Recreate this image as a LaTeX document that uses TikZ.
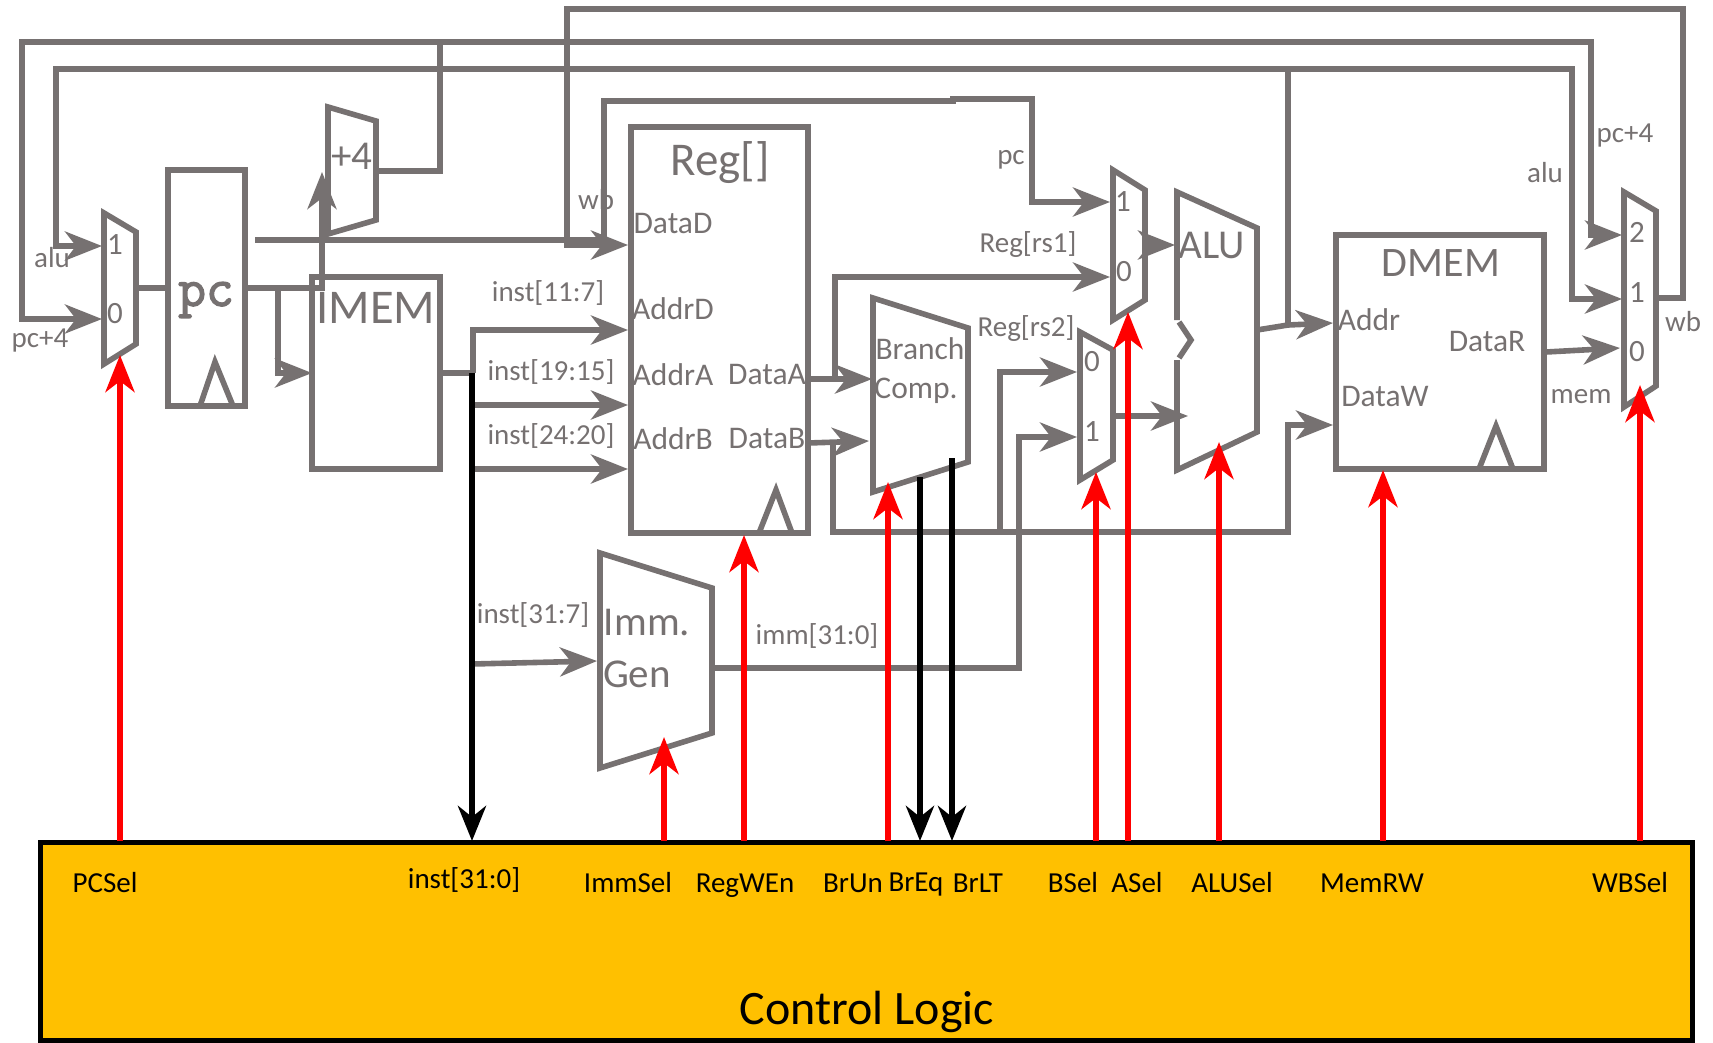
\documentclass[tikz,border=0pt]{standalone}
\usepackage{fontspec}
\setmainfont{Carlito}
\setmonofont{Latin Modern Mono}[FakeBold=2.5]
\usetikzlibrary{arrows.meta}
\definecolor{gry}{RGB}{118,113,113}
\definecolor{ctrlgold}{RGB}{255,192,0}
\newcommand{\fs}[1]{\fontsize{#1}{#1}\selectfont}
\tikzset{
  block/.style={draw=gry,line width=5.6pt,outer sep=0pt,inner sep=0pt},
  wire/.style={draw=gry,line width=5.6pt},
  arr/.style={wire,-{Stealth[length=37pt,width=29pt,inset=11pt]}},
  ctrlred/.style={draw=red,line width=6pt,-{Stealth[length=37pt,width=29pt,inset=11pt]}},
  ctrlblk/.style={draw=black,line width=6.2pt,-{Stealth[length=35pt,width=28pt,inset=11pt]}},
  lbl/.style={text=gry,font=\fs{29},inner sep=0pt},
  big/.style={text=gry,font=\fs{42},inner sep=0pt},
  sig/.style={text=black,font=\fs{29},inner sep=0pt}
}
\begin{document}
\begin{tikzpicture}[x=1pt,y=-1pt]
  \useasboundingbox (0,0) rectangle (1713,1042);
  % control box
  \node[draw=black,fill=ctrlgold,line width=5pt,outer sep=0pt,minimum width=1652pt,minimum height=198pt] (ctrl) at (866,941) {};
  % blocks
  \node[block,minimum width=77pt,minimum height=236pt] (pcreg) at (206.5,288) {};
  \node[block,minimum width=128pt,minimum height=192pt] (imem) at (376,373) {};
  \node[block,minimum width=177pt,minimum height=406pt] (regfile) at (719.5,330) {};
  \node[block,minimum width=208pt,minimum height=234pt] (dmem) at (1440,352) {};
  \foreach \nm/\l/\r/\tl/\tr/\br/\bl in {
    pcmux/104/136/213/232/344/364,
    addfour/328/376/107/121/220/234,
    immgen/600/712/553/588/733/768,
    brcomp/873/968/298/328/462/492,
    amux/1113/1145/170/190/300/320,
    bmux/1080/1113/332/350/460/480,
    wbmux/1624/1656/192/211/386/407}{
    \draw[block] (\l,\tl) -- (\r,\tr) -- (\r,\br) -- (\l,\bl) -- cycle;
  }
  \draw[block] (1177,320) -- (1177,192) -- (1257,228) -- (1257,432) -- (1177,470) -- (1177,360);
  \draw[block] (1179,322) -- (1191,340) -- (1179,358);
  % clock marks
  \draw[block] (200,406) -- (215,362) -- (233,406);
  \draw[block] (759,533) -- (776,490) -- (792,533);
  \draw[block] (1479,469) -- (1496,426) -- (1513,469);
  % ports and bends
  \foreach \nm/\x/\y in {
    pcmuxone/102/246, pcmuxzero/102/319, pcmuxout/136/288,
    alujoin/1288/69, alutopl/56/69, alutopr/1572/69, wbmuxone/1622/299,
    aluout/1257/330, addrjoin/1288/325, dmemaddr/1333/323,
    addfourout/376/171, pcfourjoin/440/42, pcfourl/22/42, pcfourr/1591/42, wbmuxtwo/1622/235,
    wbmuxout/1656/298, wbtopr/1683/9, wbtopl/567/9, regdatad/628/245,
    pcout/255/240, pcwirea/604/240, pcwireb/953/101, pcwirejog/953/99, pcwirec/1032/99, amuxone/1110/202,
    addcorner/322/288, addfourin/322/172, imemjoin/278/288,
    instjoin/473/373, regaddrd/628/330, rsonetap/473/405, regaddra/628/405, rstwotap/473/469, regaddrb/628/469,
    instbus/472/373, ctrlinst/472/841, immtap/472/664, immgenin/597/661,
    regdataa/808/379, brcompa/872/379, regdatab/808/443, brcompb/869/441,
    dataajoin/835/379, amuxzero/1110/277, databjoin/833/443, dmemjoin/1288/532, dmemdataw/1333/425,
    bmuxtap/1000/532, bmuxzero/1077/372, immgenout/712/668, immcorner/1019/668, bmuxonein/1077/437,
    amuxout/1145/245, aluina/1175/245, bmuxout/1113/416, aluinb/1188/416,
    dmemout/1546/352, wbmuxzero/1620/348,
    breqa/920/477, breqb/920/841, brlta/952/458, brltb/952/841}{
    \coordinate (\nm) at (\x,\y);
  }
  % datapath wires
  \draw[wire] (pcmuxout) -- (pcreg.west);
  \draw[arr] (pcreg.east) -- (addcorner) -- (addfourin);
  \draw[arr] (imemjoin) |- (imem.west);
  \draw[wire] (addfourout) -| (pcfourjoin);
  \draw[arr] (pcfourjoin) -- (pcfourl) |- (pcmuxzero);
  \draw[arr] (pcfourjoin) -- (pcfourr) |- (wbmuxtwo);
  \draw[arr] (alujoin) -- (alutopl) |- (pcmuxone);
  \draw[arr] (alujoin) -- (alutopr) |- (wbmuxone);
  \draw[wire] (alujoin) -- (addrjoin);
  \draw[arr] (aluout) -- (addrjoin) -- (dmemaddr);
  \draw[arr] (wbmuxout) -| (wbtopr) -- (wbtopl) |- (regdatad);
  \draw[arr] (pcout) -- (pcwirea) |- (pcwireb) -- (pcwirejog) -- (pcwirec) |- (amuxone);
  \draw[wire] (imem.east) -- (instjoin);
  \draw[arr] (instjoin) |- (regaddrd);
  \draw[arr] (rsonetap) -- (regaddra);
  \draw[arr] (rstwotap) -- (regaddrb);
  \draw[arr] (immtap) -- (immgenin);
  \draw[arr] (regdataa) -- (brcompa);
  \draw[arr] (regdatab) -- (brcompb);
  \draw[arr] (dataajoin) |- (amuxzero);
  \draw[arr] (databjoin) |- (dmemjoin) |- (dmemdataw);
  \draw[arr] (bmuxtap) |- (bmuxzero);
  \draw[arr] (immgenout) -- (immcorner) |- (bmuxonein);
  \draw[arr] (amuxout) -- (aluina);
  \draw[arr] (bmuxout) -- (aluinb);
  \draw[arr] (dmemout) -- (wbmuxzero);
  % control signals
  \draw[ctrlblk] (instbus) -- (ctrlinst);
  \draw[ctrlblk] (breqa) -- (breqb);
  \draw[ctrlblk] (brlta) -- (brltb);
  \foreach \nm/\x/\y in {
    pcsel/120/355, immsel/664/737, regwen/744/535, brun/888/482, bsel/1096/472,
    asel/1128/312, alusel/1219/442, memrw/1383/470, wbsel/1640/385}{
    \coordinate (\nm a) at (\x,841);
    \coordinate (\nm b) at (\x,\y);
    \draw[ctrlred] (\nm a) -- (\nm b);
  }
  % gray labels
  \foreach \nm/\x/\y/\txt in {
    lalua/52/258/alu, lpcfoura/40/341/pc+4, lwba/596/200/wb,
    lineleven/548/293/{inst[11:7]}, linenineteen/551/372/{inst[19:15]},
    lintwentyfour/551/436/{inst[24:20]}, linthirtyone/533/615/{inst[31:7]},
    limm/817/636/{imm[31:0]}, lpc/1011/160/pc, lrsone/1028/245/{Reg[rs1]}, lrstwo/1026/329/{Reg[rs2]},
    lmem/1581/397/mem, lwbb/1683/322/wb, lpcfourb/1625/136/pc+4, lalub/1545/173/alu}{
    \node[lbl] (\nm) at (\x,\y) {\txt};
  }
  % block ports
  \foreach \nm/\x/\y/\txt in {
    ldatad/673/224/DataD, laddrd/673/309/AddrD, laddra/673/375/AddrA, laddrb/673/439/AddrB,
    ldataa/767/375/DataA, ldatab/767/439/DataB, laddr/1369/320/Addr, ldatar/1487/342/DataR,
    ldataw/1385/397/DataW}{
    \node[lbl,font=\fs{31.5}] (\nm) at (\x,\y) {\txt};
  }
  % mux inputs
  \foreach \nm/\x/\y/\txt in {
    pone/115/245/1, pzero/115/314/0, aone/1123/202/1, azero/1124/272/0,
    bzero/1092/362/0, bone/1092/432/1, wtwo/1637/232/2, wone/1637/293/1, wzero/1637/352/0}{
    \node[lbl,font=\fs{31}] (\nm) at (\x,\y) {\txt};
  }
  % block names
  \node[big,font=\fs{47}] (lreg) at (720,163) {Reg[]};
  \node[big,font=\fs{48.5}] (limem) at (376,308) {IMEM};
  \node[big] (ldmem) at (1441,263) {DMEM};
  \node[big,font=\fs{41}] (lalu) at (1212,245) {ALU};
  \node[big,font=\fs{41}] (lplus) at (352,156) {+4};
  \node[big,font=\fs{41}] (limma) at (647,622) {Imm.};
  \node[big,font=\fs{41}] (limmb) at (637,674) {Gen};
  \node[lbl,font=\fs{31.5}] (lbranch) at (920,349) {Branch};
  \node[lbl,font=\fs{31.5}] (lcomp) at (916,391) {Comp.};
  \node[big,font=\fs{54}\ttfamily] (lpcreg) at (206,300) {pc};
  % control labels
  \foreach \nm/\x/\y/\txt in {
    tpcsel/105/883/PCSel, tinst/464/880/{inst[31:0]}, timmsel/628/883/ImmSel, tregwen/745/886/RegWEn,
    tbrun/853/883/BrUn, tbreq/916/885/BrEq, tbrlt/978/883/BrLT, tbsel/1073/883/BSel,
    tasel/1137/883/ASel, talusel/1232/883/ALUSel, tmemrw/1372/883/MemRW, twbsel/1630/883/WBSel}{
    \node[sig] (\nm) at (\x,\y) {\txt};
  }
  \node[sig,font=\fs{48}] (tctrl) at (867,1012) {Control Logic};
\end{tikzpicture}
\end{document}
